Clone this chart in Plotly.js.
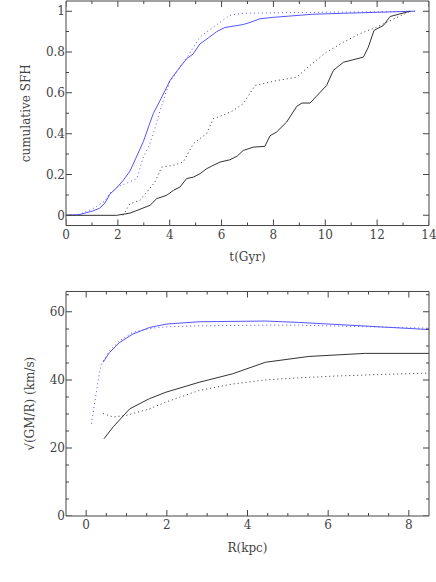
<!DOCTYPE html>
<html>
<head>
<meta charset="utf-8">
<script src="https://cdn.plot.ly/plotly-3.0.1.min.js"></script>
<style>body{margin:0;background:#fff}</style>
</head>
<body>
<div id="chart" style="width:436px;height:582px"></div>
<script>
// cumulative star formation history
var tBlueSolid = [0, 0.5, 1.0, 1.3, 1.5, 1.7, 1.95, 2.2, 2.47, 2.7, 2.98, 3.2, 3.37, 3.63, 3.85, 4.01, 4.3, 4.65, 4.9, 5.17, 5.5, 5.81, 6.13, 6.84, 7.1, 7.48, 8.0, 8.77, 9.5, 10.7, 12.0, 13.0, 13.46];
var sfhBlueSolid = [0, 0.003, 0.02, 0.035, 0.06, 0.105, 0.134, 0.17, 0.217, 0.28, 0.36, 0.44, 0.50, 0.563, 0.62, 0.66, 0.71, 0.767, 0.79, 0.84, 0.87, 0.90, 0.92, 0.935, 0.945, 0.963, 0.97, 0.979, 0.985, 0.99, 0.995, 0.998, 1.0];

var tBlueDot = [0, 0.5, 1.0, 1.5, 1.7, 2.0, 2.3, 2.6, 2.73, 2.98, 3.2, 3.37, 3.63, 3.88, 4.01, 4.3, 4.65, 4.9, 5.17, 5.55, 5.94, 6.32, 6.84, 8.0, 10.0, 12.0, 13.46];
var sfhBlueDot = [0, 0.005, 0.03, 0.07, 0.11, 0.14, 0.155, 0.171, 0.18, 0.285, 0.34, 0.40, 0.514, 0.61, 0.655, 0.71, 0.77, 0.82, 0.874, 0.91, 0.946, 0.98, 0.99, 0.993, 0.995, 0.997, 1.0];

var tBlackSolid = [0, 1.95, 2.47, 2.85, 3.24, 3.5, 3.88, 4.14, 4.4, 4.65, 4.91, 5.17, 5.42, 5.6, 5.94, 6.32, 6.6, 6.84, 7.22, 7.67, 7.87, 8.12, 8.51, 8.9, 9.1, 9.41, 9.67, 10.05, 10.31, 10.7, 11.47, 11.66, 11.88, 12.24, 12.5, 12.88, 13.27];
var sfhBlackSolid = [0, 0, 0.011, 0.028, 0.049, 0.082, 0.098, 0.122, 0.139, 0.18, 0.187, 0.204, 0.228, 0.24, 0.261, 0.272, 0.29, 0.318, 0.334, 0.338, 0.39, 0.408, 0.457, 0.534, 0.55, 0.55, 0.587, 0.636, 0.71, 0.75, 0.775, 0.824, 0.906, 0.93, 0.974, 0.987, 1.0];

var tBlackDot = [2.2, 2.47, 2.85, 3.11, 3.43, 3.69, 4.14, 4.52, 4.91, 5.42, 5.68, 5.94, 6.4, 6.84, 7.29, 8.12, 8.9, 9.41, 10.05, 10.7, 11.34, 11.98, 12.37, 12.88, 13.27];
var sfhBlackDot = [0, 0.057, 0.073, 0.114, 0.163, 0.236, 0.245, 0.261, 0.351, 0.40, 0.473, 0.485, 0.51, 0.547, 0.636, 0.66, 0.677, 0.734, 0.80, 0.848, 0.89, 0.922, 0.946, 0.979, 1.0];

// sqrt(GM/R) profiles
var rBlueDot = [0.13, 0.2, 0.26, 0.32, 0.38, 0.58, 0.83, 1.16, 1.57, 1.98, 2.8, 3.63, 4.45, 5.27, 6.1, 6.92, 7.7, 8.5];
var vBlueDot = [27.1, 32.5, 36.9, 41.5, 44.7, 48.6, 51.5, 54.0, 55.1, 55.6, 55.9, 56.1, 56.1, 56.1, 55.9, 55.7, 55.5, 55.2];

var rBlueSolid = [0.42, 0.58, 0.83, 1.16, 1.57, 1.98, 2.8, 3.63, 4.45, 5.27, 6.1, 6.92, 7.7, 8.5];
var vBlueSolid = [45.2, 48.1, 51.0, 53.5, 55.4, 56.4, 57.1, 57.3, 57.3, 56.9, 56.4, 55.9, 55.4, 54.8];

var rBlackSolid = [0.44, 0.67, 1.08, 1.57, 1.98, 2.8, 3.63, 4.45, 5.52, 6.92, 8.5];
var vBlackSolid = [22.7, 26.2, 31.5, 34.5, 36.4, 39.3, 41.8, 45.2, 46.9, 47.8, 47.8];

var rBlackDot = [0.42, 0.67, 1.0, 1.57, 1.98, 2.8, 3.63, 4.45, 5.27, 6.1, 7.3, 8.5];
var vBlackDot = [30.1, 29.1, 29.6, 31.5, 33.5, 36.9, 38.8, 40.0, 40.6, 41.1, 41.6, 42.0];

// tick values
var tTicks = [0, 2, 4, 6, 8, 10, 12, 14];
var sfhTicks = [0, 0.2, 0.4, 0.6, 0.8, 1];
var rTicks = [0, 2, 4, 6, 8];
var vTicks = [0, 20, 40, 60];

var blue = 'rgb(85,85,255)';
var dark = 'rgb(51,51,51)';
var ink = 'rgb(68,68,68)';
var serif = "'DejaVu Serif', 'Liberation Serif', serif";

function line(x, y, color, dash, xa, ya) {
    return {
        x: x, y: y, xaxis: xa, yaxis: ya,
        type: 'scatter', mode: 'lines',
        line: {color: color, width: 1, dash: dash},
        hoverinfo: 'skip'
    };
}

var dots = '1px,3px';
var data = [
    line(tBlueSolid, sfhBlueSolid, blue, 'solid', 'x', 'y'),
    line(tBlueDot, sfhBlueDot, blue, dots, 'x', 'y'),
    line(tBlackSolid, sfhBlackSolid, dark, 'solid', 'x', 'y'),
    line(tBlackDot, sfhBlackDot, dark, dots, 'x', 'y'),
    line(rBlueDot, vBlueDot, blue, dots, 'x2', 'y2'),
    line(rBlueSolid, vBlueSolid, blue, 'solid', 'x2', 'y2'),
    line(rBlackSolid, vBlackSolid, dark, 'solid', 'x2', 'y2'),
    line(rBlackDot, vBlackDot, dark, dots, 'x2', 'y2')
];

function axis(extra) {
    var a = {
        showline: false, ticks: '', showgrid: false, zeroline: false,
        ticklabeloverflow: 'allow',
        tickfont: {family: serif, size: 12, color: ink}
    };
    for (var k in extra) a[k] = extra[k];
    return a;
}

function ttl(text) {
    return {text: text, standoff: 12, font: {family: serif, size: 12, color: ink}};
}

function frame(xa, ya) {
    return {type: 'rect', xref: xa + ' domain', yref: ya + ' domain', x0: 0, x1: 1, y0: 0, y1: 1,
        line: {color: ink, width: 1}, fillcolor: 'rgba(0,0,0,0)', layer: 'above'};
}

// inside ticks on all four sides as thin filled rects, anchored on the axis scale
function xTick(v, xa, ya, len) {
    var base = {type: 'rect', xref: xa, yref: ya + ' domain', xsizemode: 'pixel', ysizemode: 'pixel',
        xanchor: v, x0: -0.5, x1: 0.5, line: {width: 0}, fillcolor: ink, layer: 'above'};
    return [
        Object.assign({}, base, {yanchor: 0, y0: 0, y1: len}),
        Object.assign({}, base, {yanchor: 1, y0: -len, y1: 0})
    ];
}
function yTick(v, xa, ya, len) {
    var base = {type: 'rect', xref: xa + ' domain', yref: ya, xsizemode: 'pixel', ysizemode: 'pixel',
        yanchor: v, y0: -0.5, y1: 0.5, line: {width: 0}, fillcolor: ink, layer: 'above'};
    return [
        Object.assign({}, base, {xanchor: 0, x0: 0, x1: len}),
        Object.assign({}, base, {xanchor: 1, x0: -len, x1: 0})
    ];
}

var shapes = [frame('x', 'y'), frame('x2', 'y2')];
function addTicks(fn, majors, step, lo, hi, xa, ya) {
    majors.forEach(function (v) { shapes = shapes.concat(fn(v, xa, ya, 6)); });
    var n = Math.round((hi - lo) / step);
    for (var i = 0; i <= n; i++) {
        var v = +(lo + i * step).toFixed(4);
        if (majors.indexOf(v) < 0) shapes = shapes.concat(fn(v, xa, ya, 3));
    }
}
addTicks(xTick, tTicks, 1, 0, 14, 'x', 'y');
addTicks(yTick, sfhTicks, 0.1, 0, 1, 'x', 'y');
addTicks(xTick, rTicks, 0.5, 0, 8, 'x2', 'y2');
addTicks(yTick, vTicks, 5, 0, 65, 'x2', 'y2');

var layout = {
    width: 436, height: 582,
    margin: {l: 66, r: 7, t: 1, b: 66},
    showlegend: false,
    paper_bgcolor: 'white', plot_bgcolor: 'white',
    font: {family: serif, size: 12, color: ink},
    xaxis: axis({domain: [0, 1], range: [0, 14], tickvals: tTicks, anchor: 'y', title: ttl('t(Gyr)')}),
    yaxis: axis({domain: [0.564, 1], range: [-0.05, 1.05], tickvals: sfhTicks, tickformat: '~g', anchor: 'x',
        title: ttl('cumulative SFH')}),
    xaxis2: axis({domain: [0, 1], range: [-0.5, 8.5], tickvals: rTicks, anchor: 'y2', title: ttl('R(kpc)')}),
    yaxis2: axis({domain: [0, 0.436], range: [0, 66], tickvals: vTicks, anchor: 'x2', title: ttl('√(GM/R) (km/s)')}),
    shapes: shapes
};

Plotly.newPlot('chart', data, layout, {displayModeBar: false});
</script>
</body>
</html>
